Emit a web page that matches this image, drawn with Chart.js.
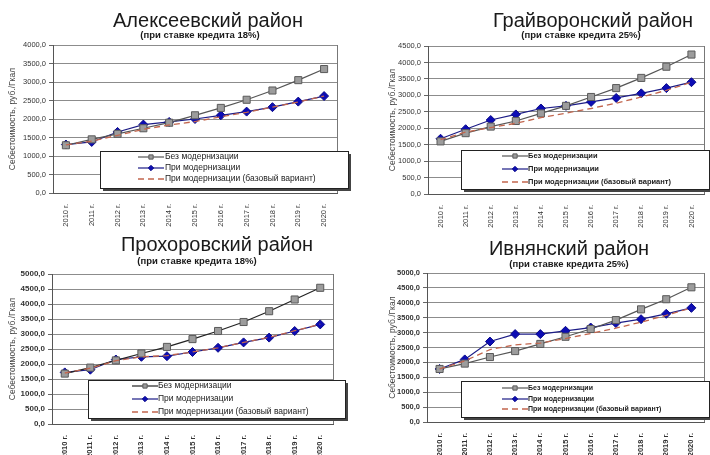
<!DOCTYPE html>
<html lang="ru">
<head>
<meta charset="utf-8">
<title>Себестоимость по районам</title>
<script src="https://cdn.jsdelivr.net/npm/chart.js@4.4.0/dist/chart.umd.min.js"></script>
<style>
  html, body { margin: 0; padding: 0; background: #fff; }
  #wrap { position: relative; width: 710px; height: 455px; overflow: hidden; }
  #wrap canvas { position: absolute; }
</style>
</head>
<body>
<div id="wrap">
  <canvas id="c1" width="355" height="228" style="left:0;top:0"></canvas>
  <canvas id="c2" width="355" height="228" style="left:355px;top:0"></canvas>
  <canvas id="c3" width="355" height="227" style="left:0;top:228px"></canvas>
  <canvas id="c4" width="355" height="227" style="left:355px;top:228px"></canvas>
</div>
<script>
const years = ['2010 г.', '2011 г.', '2012 г.', '2013 г.', '2014 г.', '2015 г.',
               '2016 г.', '2017 г.', '2018 г.', '2019 г.', '2020 г.'];
const seriesNames = ['Без модернизации', 'При модернизации', 'При модернизации (базовый вариант)'];
const yAxisTitle = 'Себестоимость, руб./Гкал';

// Алексеевский район, кредит 18%
const alekseevkaNoMod = [1290, 1450, 1600, 1750, 1900, 2100, 2300, 2520, 2770, 3050, 3350];
const alekseevkaMod   = [1310, 1380, 1650, 1850, 1920, 2000, 2100, 2200, 2320, 2470, 2620];
const alekseevkaBase  = [1300, 1400, 1560, 1720, 1840, 1930, 2060, 2180, 2320, 2460, 2620];

// Грайворонский район, кредит 25%
const graivoronNoMod = [1600, 1850, 2050, 2220, 2450, 2680, 2950, 3220, 3530, 3870, 4240];
const graivoronMod   = [1680, 1970, 2250, 2420, 2600, 2680, 2800, 2920, 3060, 3220, 3400];
const graivoronBase  = [1650, 1880, 2020, 2150, 2320, 2460, 2600, 2760, 2950, 3150, 3400];

// Прохоровский район, кредит 18%
const prokhorovkaNoMod = [1680, 1880, 2120, 2350, 2570, 2830, 3100, 3400, 3760, 4150, 4540];
const prokhorovkaMod   = [1720, 1810, 2150, 2240, 2260, 2400, 2540, 2720, 2880, 3100, 3320];
const prokhorovkaBase  = [1700, 1860, 2110, 2240, 2280, 2400, 2540, 2720, 2890, 3110, 3330];

// Ивнянский район, кредит 25%
const ivnyaNoMod = [1780, 1960, 2180, 2380, 2620, 2860, 3120, 3420, 3780, 4120, 4520];
const ivnyaMod   = [1780, 2100, 2700, 2950, 2950, 3060, 3170, 3320, 3450, 3630, 3830];
const ivnyaBase  = [1780, 2050, 2430, 2590, 2650, 2800, 2970, 3150, 3350, 3580, 3830];

const FONT = 'Arial, "Liberation Sans", sans-serif';

// titles, right frame line and the boxed legend inside the plot
const panelDecor = {
  id: 'panelDecor',
  beforeDatasetsDraw(chart) {
    const a = chart.chartArea, ctx = chart.ctx;
    ctx.save();
    ctx.strokeStyle = '#777';
    ctx.lineWidth = 1;
    ctx.beginPath();
    ctx.moveTo(Math.round(a.right) + 0.5, a.top);
    ctx.lineTo(Math.round(a.right) + 0.5, a.bottom);
    ctx.stroke();
    ctx.restore();
  },
  afterDraw(chart, args, o) {
    const ctx = chart.ctx;
    ctx.save();
    ctx.fillStyle = '#1a1a1a';
    ctx.textAlign = 'center';
    ctx.textBaseline = 'middle';
    ctx.font = '20px ' + FONT;
    ctx.fillText(o.title, o.titleX, o.titleY);
    ctx.font = 'bold 9.5px ' + FONT;
    ctx.fillText(o.subtitle, o.subX, o.subY);

    // legend box with shadow
    const L = o.legend;
    ctx.fillStyle = '#444';
    ctx.fillRect(L.x + 3, L.y + 3, L.w, L.h);
    ctx.fillStyle = '#fff';
    ctx.fillRect(L.x, L.y, L.w, L.h);
    ctx.strokeStyle = '#222';
    ctx.lineWidth = 1;
    ctx.strokeRect(L.x + 0.5, L.y + 0.5, L.w, L.h);

    chart.data.datasets.forEach((ds, i) => {
      const y = L.rows[i];
      ctx.save();
      ctx.strokeStyle = ds.borderColor;
      ctx.lineWidth = ds.borderWidth;
      ctx.setLineDash(ds.borderDash || []);
      ctx.beginPath();
      ctx.moveTo(L.sampleX, y);
      ctx.lineTo(L.sampleX + 26, y);
      ctx.stroke();
      ctx.restore();
      if (ds.pointRadius > 0) {
        ctx.fillStyle = ds.pointBackgroundColor;
        ctx.strokeStyle = ds.pointBorderColor;
        ctx.lineWidth = 1;
        Chart.helpers.drawPoint(ctx, {
          pointStyle: ds.pointStyle, radius: ds.pointRadius * 0.6, rotation: 0, borderWidth: 1
        }, L.sampleX + 13, y);
      }
      ctx.fillStyle = '#222';
      ctx.textAlign = 'left';
      ctx.font = L.font + ' ' + FONT;
      ctx.fillText(ds.label, L.textX, y);
    });
    ctx.restore();
  }
};

function makePanel(id, values, opts) {
  const [noMod, mod, base] = values;
  return new Chart(document.getElementById(id), {
    type: 'line',
    data: {
      labels: years,
      datasets: [{
        label: seriesNames[0],
        data: noMod,
        borderColor: opts.grayLine,
        borderWidth: 1.2,
        pointStyle: 'rect',
        pointRadius: 5,
        pointBackgroundColor: '#9c9c9c',
        pointBorderColor: '#5a5a5a',
        pointBorderWidth: 1,
        order: 1
      }, {
        label: seriesNames[1],
        data: mod,
        borderColor: '#1c1c86',
        borderWidth: 1.2,
        pointStyle: 'rectRot',
        pointRadius: 4.5,
        pointBackgroundColor: '#0c0cb4',
        pointBorderColor: '#0a0a8a',
        pointBorderWidth: 1,
        order: 2
      }, {
        label: seriesNames[2],
        data: base,
        borderColor: '#c2664e',
        borderWidth: 1.3,
        borderDash: [6, 4],
        pointRadius: 0,
        order: 0
      }]
    },
    options: {
      responsive: false,
      animation: false,
      devicePixelRatio: 1,
      layout: { padding: opts.padding },
      plugins: {
        legend: { display: false },
        title: { display: false },
        tooltip: { enabled: false },
        panelDecor: opts.decor
      },
      scales: {
        x: {
          offset: true,
          grid: { display: false },
          border: { color: '#555' },
          ticks: {
            autoSkip: false,
            minRotation: 90,
            maxRotation: 90,
            color: '#333',
            font: { family: FONT, size: 7.5, weight: opts.tickWeight },
            padding: 3
          },
          afterFit: s => { s.height = opts.xh; }
        },
        y: {
          min: 0,
          max: opts.max,
          grid: { color: '#8c8c8c', tickLength: 4, tickColor: '#666' },
          border: { color: '#555' },
          ticks: {
            stepSize: 500,
            color: '#333',
            padding: 3,
            font: { family: FONT, size: opts.tickSize, weight: opts.tickWeight },
            callback: v => v.toFixed(1).replace('.', ',')
          },
          title: {
            display: true,
            text: yAxisTitle,
            color: '#444',
            font: { family: FONT, size: 8.5 },
            padding: { top: 8, bottom: 2 }
          },
          afterFit: s => { s.width = opts.yw; }
        }
      }
    },
    plugins: [panelDecor]
  });
}

makePanel('c1', [alekseevkaNoMod, alekseevkaMod, alekseevkaBase], {
  max: 4000, yw: 53, xh: 35, grayLine: '#555', tickSize: 7.5, tickWeight: 'normal',
  padding: { top: 45, right: 18, left: 0, bottom: 0 },
  decor: {
    title: 'Алексеевский район', titleX: 208, titleY: 21,
    subtitle: '(при ставке кредита 18%)', subX: 200, subY: 35,
    legend: { x: 100, y: 151, w: 248, h: 37, rows: [157, 168, 179], sampleX: 138, textX: 165, font: '8.5px' }
  }
});

makePanel('c2', [graivoronNoMod, graivoronMod, graivoronBase], {
  max: 4500, yw: 48, xh: 34, grayLine: '#555', tickSize: 7.5, tickWeight: 'normal',
  padding: { top: 46, right: 3, left: 25, bottom: 0 },
  decor: {
    title: 'Грайворонский район', titleX: 238, titleY: 21,
    subtitle: '(при ставке кредита 25%)', subX: 226, subY: 35,
    legend: { x: 106, y: 150, w: 248, h: 39, rows: [156, 169, 182], sampleX: 147, textX: 173, font: 'bold 7.5px' }
  }
});

makePanel('c3', [prokhorovkaNoMod, prokhorovkaMod, prokhorovkaBase], {
  max: 5000, yw: 52, xh: 31, grayLine: '#222', tickSize: 8, tickWeight: 'bold',
  padding: { top: 46, right: 22, left: 0, bottom: 0 },
  decor: {
    title: 'Прохоровский район', titleX: 217, titleY: 17,
    subtitle: '(при ставке кредита 18%)', subX: 197, subY: 33,
    legend: { x: 88, y: 152, w: 257, h: 38, rows: [158, 171, 184], sampleX: 132, textX: 158, font: '8.5px' }
  }
});

makePanel('c4', [ivnyaNoMod, ivnyaMod, ivnyaBase], {
  max: 5000, yw: 47, xh: 33, grayLine: '#555', tickSize: 7.5, tickWeight: 'bold',
  padding: { top: 45, right: 2, left: 25, bottom: 0 },
  decor: {
    title: 'Ивнянский район', titleX: 214, titleY: 21,
    subtitle: '(при ставке кредита 25%)', subX: 214, subY: 36,
    legend: { x: 106, y: 153, w: 248, h: 36, rows: [160, 171, 181], sampleX: 147, textX: 173, font: 'bold 7px' }
  }
});
</script>
</body>
</html>
